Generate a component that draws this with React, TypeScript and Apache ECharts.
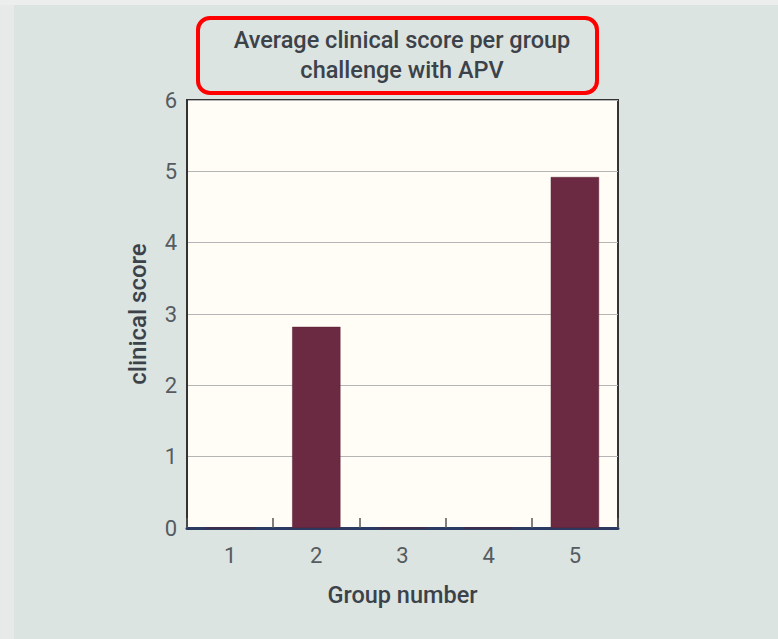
import React, { useEffect, useRef } from "react";
import * as echarts from "echarts";

const categories: string[] = ["1", "2", "3", "4", "5"];
const scores: number[] = [0, 2.82, 0, 0, 4.92];
const titleLines: string[] = ["Average clinical score per group", "challenge with APV"];
const xName = "Group number";
const yName = "clinical score";

const FONT = "Roboto, 'Open Sans', sans-serif";

export default function App() {
  const ref = useRef<HTMLDivElement>(null);
  useEffect(() => {
    if (!ref.current) return;
    const chart = echarts.init(ref.current, undefined, { renderer: "svg" });
    chart.setOption({
      animation: false,
      backgroundColor: "#dce4e1",
      graphic: [
        { type: "rect", left: 0, top: 0, shape: { width: 14, height: 639 }, style: { fill: "#e7eae9" }, z: -1 },
        { type: "rect", left: 0, top: 0, shape: { width: 778, height: 5 }, style: { fill: "#eceeed" }, z: -1 },
        {
          type: "rect",
          shape: { x: 198, y: 18, width: 399, height: 75, r: 12 },
          style: { fill: "none", stroke: "#ff0000", lineWidth: 4 },
        },
        {
          type: "text",
          x: 402,
          y: 55,
          style: {
            text: titleLines.join("\n"),
            fontFamily: FONT,
            fontSize: 23.5,
            fontWeight: 500,
            lineHeight: 30,
            fill: "#3b4249",
            align: "center",
            verticalAlign: "middle",
          },
        },
      ],
      grid: {
        left: 187,
        top: 100,
        width: 431,
        height: 428,
        show: true,
        backgroundColor: "#fffdf6",
        borderColor: "#333333",
        borderWidth: 2,
      },
      xAxis: {
        type: "category",
        data: categories,
        name: xName,
        nameLocation: "middle",
        nameGap: 55,
        nameTextStyle: { fontFamily: FONT, fontSize: 23.5, fontWeight: 500, color: "#3b4249" },
        axisLine: { lineStyle: { color: "#2a3a62", width: 3 } },
        axisTick: { show: true, inside: true, length: 10, lineStyle: { color: "#555", width: 1.5 } },
        axisLabel: { fontFamily: FONT, fontSize: 22, color: "#555b60", margin: 16 },
      },
      yAxis: {
        type: "value",
        min: 0,
        max: 6,
        interval: 1,
        name: yName,
        nameLocation: "middle",
        nameRotate: 90,
        nameGap: 37,
        nameTextStyle: { fontFamily: FONT, fontSize: 24, fontWeight: 500, color: "#3b4249" },
        axisLine: { show: true, lineStyle: { color: "#333333", width: 2 } },
        axisTick: { show: false },
        axisLabel: { fontFamily: FONT, fontSize: 22, color: "#555b60", margin: 10 },
        splitLine: { show: true, lineStyle: { color: "#b5b5b5", width: 1 } },
      },
      series: [
        {
          type: "bar",
          data: scores,
          barWidth: "56%",
          itemStyle: { color: "#6b2a42", borderColor: "#5a2236", borderWidth: 0.5 },
        },
      ],
    });
    return () => chart.dispose();
  }, []);
  return <div ref={ref} style={{ position: "absolute", left: 0, top: 0, width: 778, height: 639 }} />;
}
